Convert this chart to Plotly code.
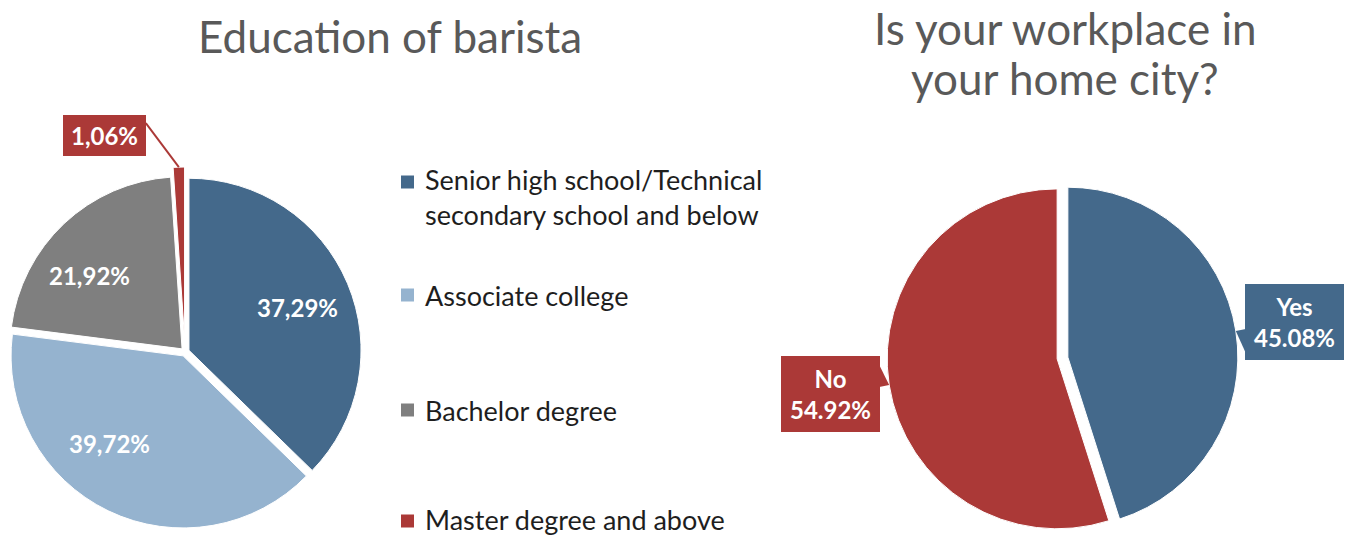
import math
import plotly.graph_objects as go

W, H = 1351, 538

# ---- data -------------------------------------------------------------
edu_title = "Education of barista"
edu_labels = [
    "Senior high school/Technical<br>secondary school and below",
    "Associate college",
    "Bachelor degree",
    "Master degree and above",
]
edu_values = [37.29, 39.72, 21.92, 1.06]

home_title_lines = ["Is your workplace in", "your home city?"]
home_labels = ["Yes", "No"]
home_values = [45.08, 54.92]

# ---- style ------------------------------------------------------------
BLUE = "#44698B"
LIGHT_BLUE = "#95B3CF"
GREY = "#7F7F7F"
RED = "#AB3937"
edu_colors = [BLUE, LIGHT_BLUE, GREY, RED]
home_colors = [BLUE, RED]
FONT = "Lato"
TITLE_GREY = "#595959"
LABEL_SIZE = 24

edu_pull = [0.025, 0.025, 0.025, 0.075]
home_pull = [0.032, 0.032]

# pie boxes in pixels (left, top, right, bottom)
EDU_BOX = (0, 166, 370, 538)
HOME_BOX = (887.1, 182.6, 1237.9, 533.4)


def to_paper(x, y):
    return x / W, 1 - y / H


def box_domain(box):
    l, t, r, b = box
    return dict(x=[l / W, r / W], y=[1 - b / H, 1 - t / H])


def pie_geometry(box, pulls):
    l, t, r, b = box
    cx, cy = (l + r) / 2, (t + b) / 2
    r0 = min(r - l, b - t) / 2 / (1 + max(pulls))
    return cx, cy, r0


def mid_angles(values):
    total = sum(values)
    acc, out = 0.0, []
    for v in values:
        out.append((acc + v / 2) / total * 360)
        acc += v
    return out


def polar(cx, cy, r, ang):
    a = math.radians(ang)
    return cx + r * math.sin(a), cy - r * math.cos(a)


fig = go.Figure()

fig.add_trace(go.Pie(
    labels=edu_labels, values=edu_values, sort=False, direction="clockwise",
    rotation=0, pull=edu_pull, textinfo="none", hoverinfo="label+percent",
    marker=dict(colors=edu_colors, line=dict(color="white", width=1)),
    domain=box_domain(EDU_BOX), showlegend=False,
))
fig.add_trace(go.Pie(
    labels=home_labels, values=home_values, sort=False, direction="clockwise",
    rotation=0, pull=home_pull, textinfo="none", hoverinfo="label+percent",
    marker=dict(colors=home_colors, line=dict(color="white", width=1)),
    domain=box_domain(HOME_BOX), showlegend=False,
))

annotations = []
shapes = []

# ---- labels inside the education pie -----------------------------------
ecx, ecy, er0 = pie_geometry(EDU_BOX, edu_pull)
edu_mid = mid_angles(edu_values)
inside_nudge = [(-2, 4), (-21, -21), (-10, 14)]
for i in range(3):
    x, y = polar(ecx, ecy, er0 * (0.70 + edu_pull[i]), edu_mid[i])
    x += inside_nudge[i][0]
    y += inside_nudge[i][1]
    px, py = to_paper(x, y)
    annotations.append(dict(
        x=px, y=py, xref="paper", yref="paper", showarrow=False,
        text="<b>%s%%</b>" % f"{edu_values[i]:.2f}".replace(".", ","),
        font=dict(family=FONT, size=LABEL_SIZE, color="white"),
        xanchor="center", yanchor="middle",
    ))

# small slice: boxed label with a leader line
tipx, tipy = polar(ecx, ecy, er0 * (1 + edu_pull[3]), edu_mid[3])
jx, jy = tipx - 33, tipy - 44
shapes.append(dict(type="line", xref="paper", yref="paper",
                   x0=to_paper(tipx, tipy)[0], y0=to_paper(tipx, tipy)[1],
                   x1=to_paper(jx, jy)[0], y1=to_paper(jx, jy)[1],
                   line=dict(color=RED, width=2), layer="above"))
bx, by = to_paper(jx - 41.5, jy + 12.5)
annotations.append(dict(
    x=bx, y=by, xref="paper", yref="paper", showarrow=False,
    text="<b>%s%%</b>" % f"{edu_values[3]:.2f}".replace(".", ","),
    font=dict(family=FONT, size=LABEL_SIZE, color="white"),
    bgcolor=RED, width=83, height=41, borderpad=0, borderwidth=0,
    xanchor="center", yanchor="middle",
))

# ---- callouts of the home-city pie -------------------------------------
hcx, hcy, hr0 = pie_geometry(HOME_BOX, home_pull)
home_mid = mid_angles(home_values)
BOX_W, BOX_H = 99, 76
for i, lab in enumerate(home_labels):
    cxl, cyl = polar(hcx, hcy, hr0 * 1.38, home_mid[i])
    tx, ty = polar(hcx, hcy, hr0 * (1 + home_pull[i]), home_mid[i])
    px, py = to_paper(cxl, cyl)
    annotations.append(dict(
        x=px, y=py, xref="paper", yref="paper", showarrow=False,
        text="<b>%s</b><br><b>%.2f%%</b>" % (lab, home_values[i]),
        font=dict(family=FONT, size=LABEL_SIZE, color="white"),
        bgcolor=home_colors[i], width=BOX_W, height=BOX_H,
        borderpad=0, borderwidth=0, xanchor="center", yanchor="middle",
    ))
    if cxl > hcx:
        ex = cxl - BOX_W / 2 + 1
        pts = [(ex, ty - 2), (tx, ty), (ex, ty + 22)]
    else:
        ex = cxl + BOX_W / 2 - 1
        pts = [(ex, ty - 20), (tx, ty), (ex, ty + 2)]
    path = "M " + " L ".join("%f,%f" % to_paper(*p) for p in pts) + " Z"
    shapes.append(dict(type="path", xref="paper", yref="paper", path=path,
                       fillcolor=home_colors[i], line=dict(width=0),
                       layer="above"))

# ---- titles -------------------------------------------------------------
tx_, ty_ = to_paper(390, 36)
annotations.append(dict(x=tx_, y=ty_, xref="paper", yref="paper",
                        showarrow=False, text=edu_title,
                        font=dict(family=FONT, size=44, color=TITLE_GREY),
                        xanchor="center", yanchor="middle"))
for line, ly in zip(home_title_lines, [28, 78]):
    tx_, ty_ = to_paper(1065, ly)
    annotations.append(dict(x=tx_, y=ty_, xref="paper", yref="paper",
                            showarrow=False, text=line,
                            font=dict(family=FONT, size=44, color=TITLE_GREY),
                            xanchor="center", yanchor="middle"))

# ---- legend of the education pie ----------------------------------------
legend_y = [197, 295, 410, 519]      # centre of each entry
marker_y = [182, 295, 410, 521]
for i, lab in enumerate(edu_labels):
    x0, y0 = to_paper(401, marker_y[i] - 6.5)
    x1, y1 = to_paper(414, marker_y[i] + 6.5)
    shapes.append(dict(type="rect", xref="paper", yref="paper",
                       x0=x0, y0=y0, x1=x1, y1=y1,
                       fillcolor=edu_colors[i], line=dict(width=0)))
    lx, ly = to_paper(423, legend_y[i])
    annotations.append(dict(x=lx, y=ly, xref="paper", yref="paper",
                            showarrow=False, text=lab, align="left",
                            font=dict(family=FONT, size=27, color="#1E1E1E"),
                            xanchor="left", yanchor="middle"))

fig.update_layout(
    width=W, height=H, autosize=False,
    margin=dict(l=0, r=0, t=0, b=0, pad=0),
    paper_bgcolor="white", plot_bgcolor="white",
    annotations=annotations, shapes=shapes,
)

fig.write_html("out.html")
